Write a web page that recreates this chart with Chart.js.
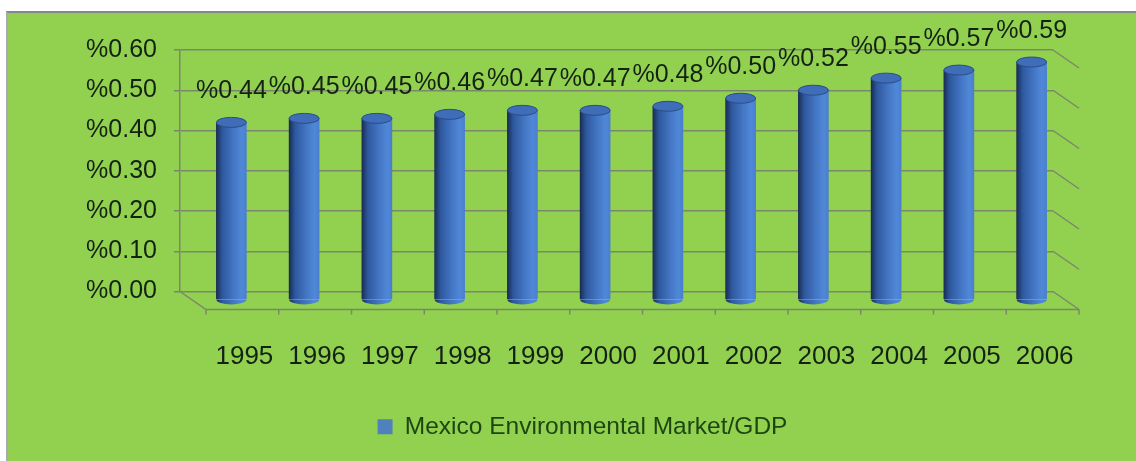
<!DOCTYPE html>
<html>
<head>
<meta charset="utf-8">
<script src="https://cdn.jsdelivr.net/npm/chart.js@4.4.1/dist/chart.umd.min.js"></script>
<style>
    html, body { margin: 0; padding: 0; background: #ffffff; }
    #frame {
        position: absolute;
        left: 6px;
        top: 11px;
        width: 1128px;
        height: 448px;
        background: #92d050;
        border-top: 2px solid #85858f;
        border-left: 2px solid #a9aab8;
    }
    #chart { display: block; }
</style>
</head>
<body>
<div id="frame"><canvas id="chart" width="1128" height="448"></canvas></div>
<script>
// Chart data
const years = ['1995', '1996', '1997', '1998', '1999', '2000', '2001', '2002', '2003', '2004', '2005', '2006'];
const marketShareOfGdp = [0.44, 0.45, 0.45, 0.46, 0.47, 0.47, 0.48, 0.50, 0.52, 0.55, 0.57, 0.59];
const seriesName = 'Mexico Environmental Market/GDP';

const TEXT_COLOR = '#142214';
const GRID_COLOR = '#7b876a';
const AXIS_FONT = "'Liberation Sans', Arial, sans-serif";

// offsets used for the fake 3D look (back wall -> front edge)
const DEPTH_X = 26;
const DEPTH_Y = 18;
const BAR_SHIFT_X = 15;
const BAR_SHIFT_Y = 8;
const BAR_WIDTH = 30;
const LEGEND_SHIFT = 41;

function formatPercent(v) {
    return '%' + Number(v).toFixed(2);
}

function cylinderGradient(ctx, x) {
    const g = ctx.createLinearGradient(x - BAR_WIDTH / 2, 0, x + BAR_WIDTH / 2, 0);
    g.addColorStop(0, '#1a2d52');
    g.addColorStop(0.2, '#2e589e');
    g.addColorStop(0.6, '#4578c6');
    g.addColorStop(0.85, '#5088d8');
    g.addColorStop(1, '#4a7fcc');
    return g;
}

// floor, right wall and tick marks
const frame3d = {
    id: 'frame3d',
    afterLayout(chart) {
        // legend in the original sits a bit right of centre
        chart.legend.left += LEGEND_SHIFT;
        chart.legend.right += LEGEND_SHIFT;
    },
    beforeDatasetsDraw(chart) {
        const ctx = chart.ctx;
        const y = chart.scales.y;
        const area = chart.chartArea;
        ctx.save();
        ctx.strokeStyle = GRID_COLOR;
        ctx.lineWidth = 1.5;
        // right wall diagonals
        y.ticks.forEach(t => {
            const py = y.getPixelForValue(t.value);
            ctx.beginPath();
            ctx.moveTo(area.right, py);
            ctx.lineTo(area.right + DEPTH_X, py + DEPTH_Y);
            ctx.stroke();
        });
        // floor
        ctx.beginPath();
        ctx.moveTo(area.left, area.bottom);
        ctx.lineTo(area.left + DEPTH_X, area.bottom + DEPTH_Y);
        ctx.lineTo(area.right + DEPTH_X, area.bottom + DEPTH_Y);
        ctx.stroke();
        // category ticks on the front edge
        const step = (area.right - area.left) / years.length;
        for (let i = 0; i <= years.length; i++) {
            const px = area.left + DEPTH_X + i * step;
            ctx.beginPath();
            ctx.moveTo(px, area.bottom + DEPTH_Y);
            ctx.lineTo(px, area.bottom + DEPTH_Y + 5);
            ctx.stroke();
        }
        ctx.restore();

        // push the bars forward into the box
        ctx.save();
        ctx.translate(BAR_SHIFT_X, BAR_SHIFT_Y);
    },
    afterDatasetsDraw(chart) {
        const ctx = chart.ctx;
        const meta = chart.getDatasetMeta(0);
        const base = chart.scales.y.getPixelForValue(0);
        meta.data.forEach((bar, i) => {
            const rx = BAR_WIDTH / 2;
            const ry = 5;
            // bottom of cylinder
            ctx.beginPath();
            ctx.ellipse(bar.x, base, rx, ry, 0, 0, Math.PI);
            ctx.fillStyle = cylinderGradient(ctx, bar.x);
            ctx.fill();
            // top of cylinder
            ctx.beginPath();
            ctx.ellipse(bar.x, bar.y, rx, ry, 0, 0, Math.PI * 2);
            ctx.fillStyle = '#3f6db8';
            ctx.fill();
            ctx.strokeStyle = '#2a4d8a';
            ctx.lineWidth = 1;
            ctx.stroke();
            // value label
            ctx.fillStyle = TEXT_COLOR;
            ctx.font = '25px ' + AXIS_FONT;
            ctx.textAlign = 'center';
            ctx.textBaseline = 'middle';
            ctx.fillText(formatPercent(marketShareOfGdp[i]), bar.x, bar.y - 31);
        });
        ctx.restore();
    },
    afterDraw(chart) {
        // year labels sit on the front edge of the floor
        const ctx = chart.ctx;
        const x = chart.scales.x;
        const area = chart.chartArea;
        ctx.save();
        ctx.fillStyle = TEXT_COLOR;
        ctx.font = '26px ' + AXIS_FONT;
        ctx.textAlign = 'center';
        ctx.textBaseline = 'middle';
        years.forEach((label, i) => {
            ctx.fillText(label, x.getPixelForValue(i) + DEPTH_X + 2, area.bottom + 65);
        });
        ctx.restore();
    }
};

function init() {
    const ctx = document.getElementById('chart').getContext('2d');

    new Chart(ctx, {
        type: 'bar',
        data: {
            labels: years,
            datasets: [{
                label: seriesName,
                data: marketShareOfGdp,
                barThickness: BAR_WIDTH,
                borderWidth: 0,
                clip: false,
                backgroundColor: c => {
                    const chart = c.chart;
                    if (!chart.chartArea || !chart.scales.x) return '#3f6fbf';
                    return cylinderGradient(chart.ctx, chart.scales.x.getPixelForValue(c.dataIndex));
                }
            }]
        },
        options: {
            responsive: false,
            animation: false,
            devicePixelRatio: 1,
            layout: {
                padding: { top: 37, left: 22, right: 83, bottom: 12 }
            },
            scales: {
                x: {
                    grid: { display: false },
                    border: { display: false },
                    ticks: { display: false },
                    afterFit: scale => { scale.height = 113; }
                },
                y: {
                    min: 0,
                    max: 0.6,
                    ticks: {
                        stepSize: 0.1,
                        padding: 17,
                        color: TEXT_COLOR,
                        font: { family: AXIS_FONT, size: 25 },
                        callback: v => formatPercent(v)
                    },
                    grid: { color: GRID_COLOR, lineWidth: 1.5, tickLength: 6 },
                    border: { display: true, color: GRID_COLOR, width: 1.5 },
                    afterFit: scale => { scale.width = 150; }
                }
            },
            plugins: {
                tooltip: { enabled: false },
                legend: {
                    position: 'bottom',
                    labels: {
                        boxWidth: 15,
                        boxHeight: 15,
                        padding: 10,
                        color: '#1e4612',
                        font: { family: AXIS_FONT, size: 24.5 },
                        generateLabels: () => [{
                            text: seriesName,
                            fillStyle: '#4f81bd',
                            strokeStyle: '#4f81bd',
                            lineWidth: 0,
                            fontColor: '#1e4612'
                        }]
                    }
                }
            }
        },
        plugins: [frame3d]
    });
}

document.addEventListener('DOMContentLoaded', init);
</script>
</body>
</html>
